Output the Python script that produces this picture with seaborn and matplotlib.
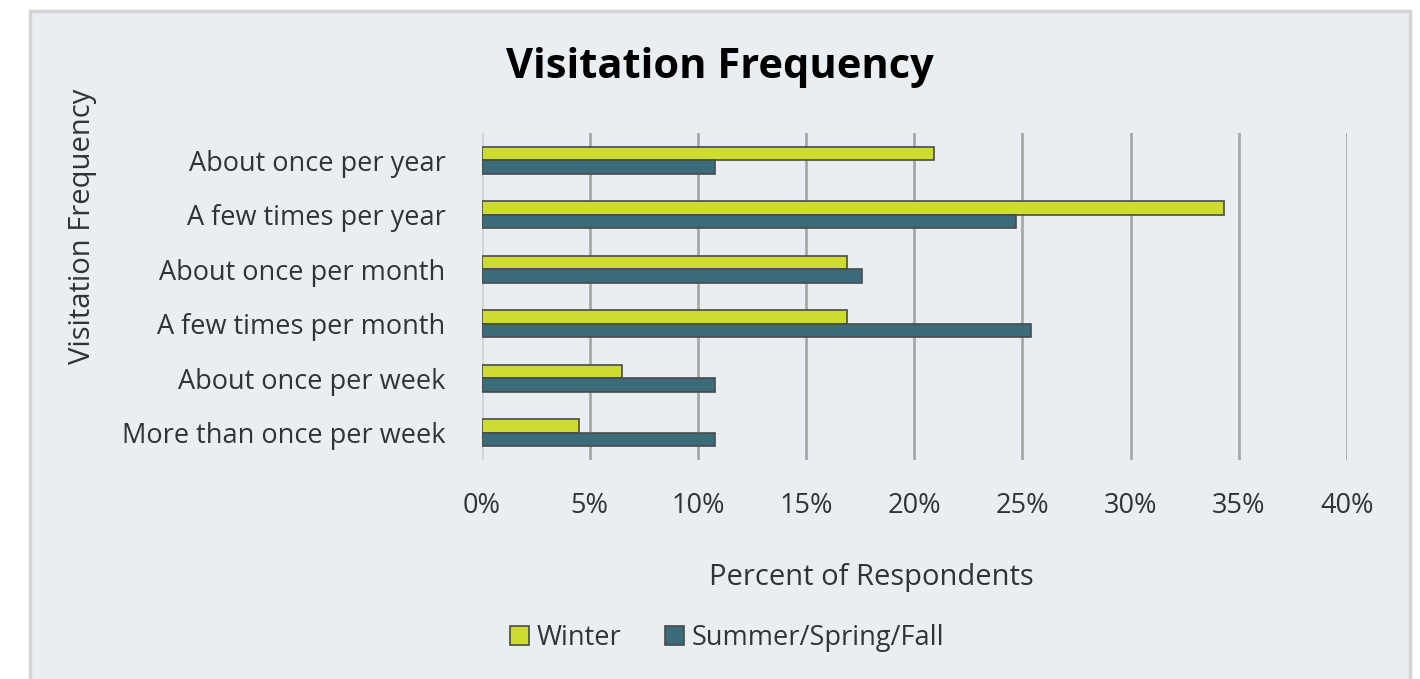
import pandas as pd
import seaborn as sns
import matplotlib.pyplot as plt
from matplotlib.patches import Rectangle
from matplotlib.ticker import PercentFormatter

categories = ['About once per year', 'A few times per year', 'About once per month',
              'A few times per month', 'About once per week', 'More than once per week']
winter = [20.9, 34.3, 16.9, 16.9, 6.5, 4.5]
summer = [10.8, 24.7, 17.6, 25.4, 10.8, 10.8]
seasons = ['Winter', 'Summer/Spring/Fall']
xticks = [0, 5, 10, 15, 20, 25, 30, 35, 40]

df = pd.DataFrame({
    'category': categories * 2,
    'season': [seasons[0]] * len(categories) + [seasons[1]] * len(categories),
    'pct': winter + summer,
})

sns.set_style('white')
plt.rcParams['font.family'] = ['Open Sans', 'DejaVu Sans']
bg = '#E9EEF3'
txt = '#333333'

fig = plt.figure(figsize=(14.2, 6.79), dpi=100, facecolor='white')
fig.patches.append(Rectangle((30 / 1420, -0.01), 1380 / 1420, 1 - 11 / 679 + 0.01,
                             transform=fig.transFigure, facecolor=bg,
                             edgecolor='#D4D4D4', linewidth=2.5, zorder=-10))

ax = fig.add_axes([481.5 / 1420, 1 - 460 / 679, (1347 - 481.5) / 1420, (460 - 133) / 679])
ax.set_facecolor(bg)
sns.barplot(data=df, x='pct', y='category', hue='season', hue_order=seasons,
            palette=['#CDDC2E', '#3C6B7A'], saturation=1, width=0.5,
            edgecolor='#4A4A4A', linewidth=1.2, ax=ax, legend=True, zorder=3)

ax.set_xlim(0, 40)
ax.set_xticks(xticks)
ax.xaxis.set_major_formatter(PercentFormatter(decimals=0))
ax.grid(axis='x', color='#A4AAA6', linewidth=2, zorder=0)
ax.xaxis.get_gridlines()[0].set_color('#D0D4D6')
for s in ax.spines.values():
    s.set_visible(False)
ax.tick_params(axis='x', length=0, pad=23, labelsize=19.5, labelcolor=txt)
ax.tick_params(axis='y', length=0, pad=26, labelsize=19.5, labelcolor=txt)
ax.set_xlabel('')
ax.set_ylabel('')

fig.text(0.507, 1 - 68 / 679, 'Visitation Frequency', ha='center', va='center',
         fontsize=30, fontweight='bold', color='black')
fig.text(871 / 1420, 1 - 577 / 679, 'Percent of Respondents', ha='center', va='center',
         fontsize=21, color=txt)
fig.text(83 / 1420, 1 - 226 / 679, 'Visitation Frequency', ha='center', va='center',
         rotation=90, fontsize=21, color=txt)

handles, labels = ax.get_legend_handles_labels()
ax.get_legend().remove()
fig.legend(handles, labels, loc='center', bbox_to_anchor=(727 / 1420, 1 - 638 / 679),
           ncol=2, frameon=False, fontsize=19.5, handlelength=0.7, handleheight=0.7,
           handletextpad=0.3, columnspacing=1.6, labelcolor=txt)

fig.savefig('out.png', dpi=100, facecolor='white')
